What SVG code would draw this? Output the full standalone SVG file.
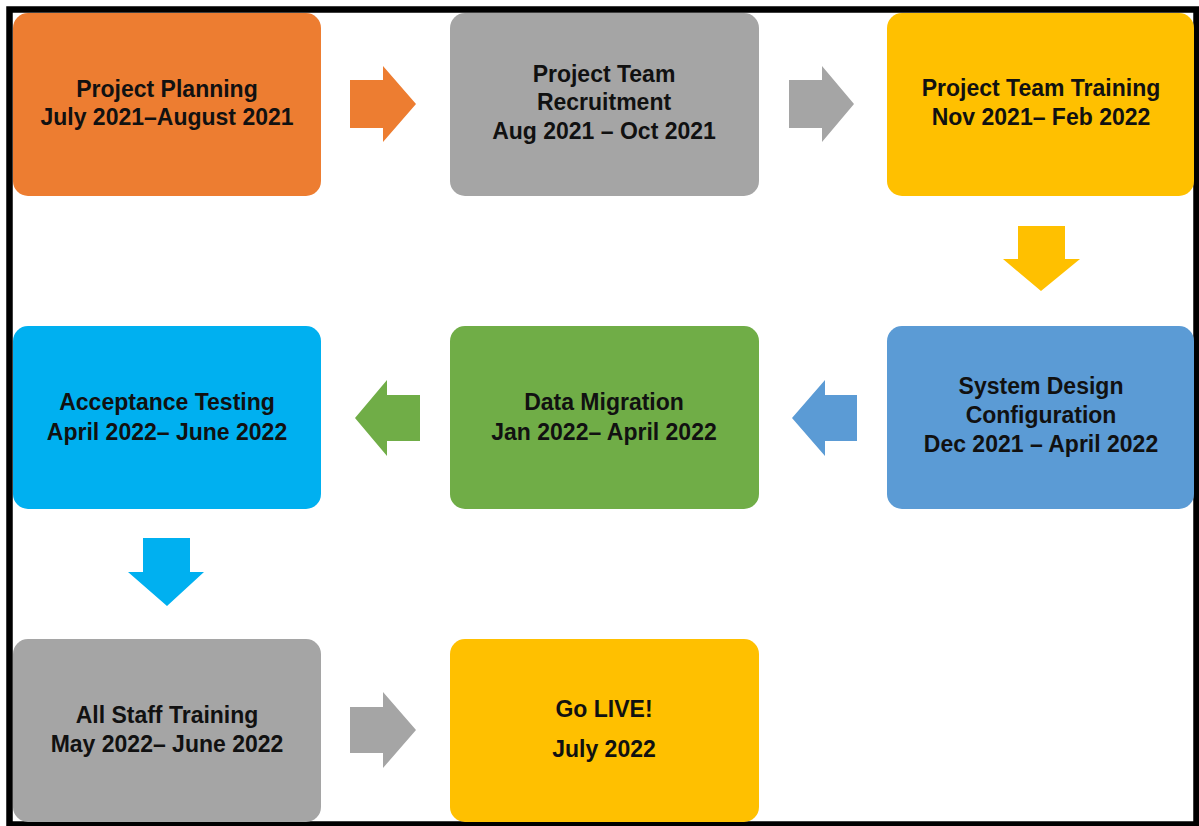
<svg xmlns="http://www.w3.org/2000/svg" width="1199" height="826" viewBox="0 0 1199 826">
<style>
text{font-family:"Liberation Sans",Arial,sans-serif;font-weight:bold;font-size:23px;fill:#111;text-anchor:middle}
.box{rx:15;ry:15}
</style>
<rect x="0" y="0" width="1199" height="826" fill="#fff"/>
<rect x="9.5" y="9.5" width="1187" height="815" fill="none" stroke="#000" stroke-width="6.5"/>
<g id="n1"><rect class="box" x="13" y="13" width="308" height="183" fill="#ED7D31"/><text x="167" y="97">Project Planning</text><text x="167" y="125">July 2021–August 2021</text></g>
<g id="n2"><rect class="box" x="450" y="13" width="309" height="183" fill="#A5A5A5"/><text x="604" y="82">Project Team</text><text x="604" y="110">Recruitment</text><text x="604" y="139">Aug 2021 – Oct 2021</text></g>
<g id="n3"><rect class="box" x="887" y="13" width="307" height="183" fill="#FFC000"/><text x="1041" y="96">Project Team Training</text><text x="1041" y="125">Nov 2021– Feb 2022</text></g>
<g id="n4"><rect class="box" x="13" y="326" width="308" height="183" fill="#00B0F0"/><text x="167" y="410">Acceptance Testing</text><text x="167" y="440">April 2022– June 2022</text></g>
<g id="n5"><rect class="box" x="450" y="326" width="309" height="183" fill="#70AD47"/><text x="604" y="410">Data Migration</text><text x="604" y="440">Jan 2022– April 2022</text></g>
<g id="n6"><rect class="box" x="887" y="326" width="307" height="183" fill="#5B9BD5"/><text x="1041" y="394">System Design</text><text x="1041" y="423">Configuration</text><text x="1041" y="452">Dec 2021 – April 2022</text></g>
<g id="n7"><rect class="box" x="13" y="639" width="308" height="183" fill="#A5A5A5"/><text x="167" y="723">All Staff Training</text><text x="167" y="752">May 2022– June 2022</text></g>
<g id="n8"><rect class="box" x="450" y="639" width="309" height="183" fill="#FFC000"/><text x="604" y="717">Go LIVE!</text><text x="604" y="757">July 2022</text></g>
<g id="connectors">
<polygon points="350,80 383,80 383,66 416,104 383,142 383,128 350,128" fill="#ED7D31"/>
<polygon points="789,80 822,80 822,66 854,104 822,142 822,128 789,128" fill="#A5A5A5"/>
<polygon points="1018,226 1065,226 1065,259 1080,259 1041,291 1003,259 1018,259" fill="#FFC000"/>
<polygon points="857,395 825,395 825,380 792,418 825,456 825,441 857,441" fill="#5B9BD5"/>
<polygon points="420,395 387,395 387,380 355,418 387,456 387,441 420,441" fill="#70AD47"/>
<polygon points="143,538 190,538 190,572 204,572 167,606 128,572 143,572" fill="#00B0F0"/>
<polygon points="350,707 383,707 383,692 416,730 383,768 383,753 350,753" fill="#A5A5A5"/>
</g>
</svg>
